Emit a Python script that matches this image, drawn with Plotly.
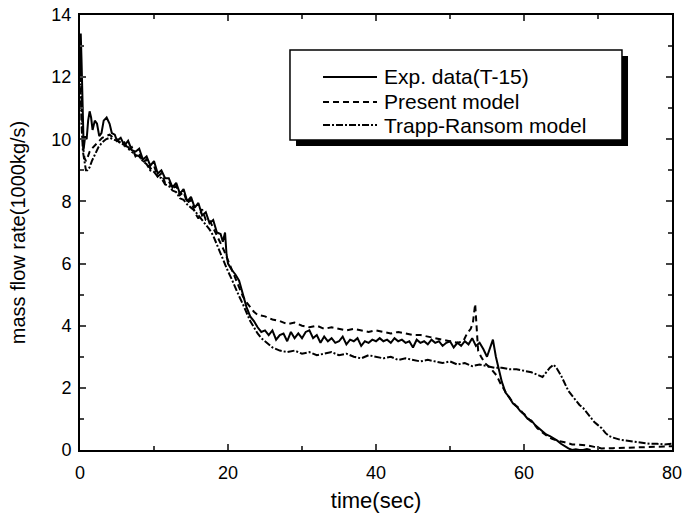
import plotly.graph_objects as go

# Exp. data (T-15)
exp_t = [0.0, 0.1, 0.2, 0.3, 0.4, 0.5, 0.7, 0.9, 1.1, 1.3, 1.5, 1.7, 2.0, 2.3, 2.6, 2.9, 3.2, 3.6, 4.0, 4.3,
         4.7, 5.0, 5.5, 6.0, 6.5, 7.0, 7.5, 8.0, 8.5, 9.0, 9.5, 10.0, 10.5, 11.0, 11.5, 12.0, 12.5, 13.0, 13.5, 14.0,
         14.5, 15.0, 15.5, 16.0, 16.5, 17.0, 17.5, 18.0, 18.5, 19.0, 19.3, 19.6, 19.8, 20.0, 20.5, 21.0, 21.5, 22.0, 22.5, 23.0,
         23.5, 24.0, 24.5, 25.0, 25.5, 26.0, 26.5, 27.0, 27.5, 28.0, 28.5, 29.0, 29.5, 30.0, 30.5, 31.0, 31.5, 32.0, 32.5, 33.0,
         33.5, 34.0, 34.5, 35.0, 35.5, 36.0, 36.5, 37.0, 37.5, 38.0, 38.5, 39.0, 39.5, 40.0, 40.5, 41.0, 41.5, 42.0, 42.5, 43.0,
         43.5, 44.0, 44.5, 45.0, 45.5, 46.0, 46.5, 47.0, 47.5, 48.0, 48.5, 49.0, 49.5, 50.0, 50.5, 51.0, 51.5, 52.0, 52.5, 53.0,
         53.5, 54.0, 54.5, 55.0, 55.4, 55.8, 56.2, 56.6, 57.0, 57.5, 58.0, 58.5, 59.0, 59.5, 60.0, 60.5, 61.0, 61.5, 62.0, 62.5,
         63.0, 63.5, 64.0, 64.5, 65.0, 65.5, 66.0, 66.5, 67.0, 67.5, 68.0, 68.5, 69.0]
exp_v = [12.0, 13.4, 12.6, 11.2, 10.3, 9.7, 10.1, 10.0, 10.6, 10.9, 10.7, 10.3, 10.6, 10.5, 10.1, 10.2, 10.6, 10.7, 10.5, 10.2,
         10.15, 9.95, 10.05, 9.8, 9.95, 9.65, 9.6, 9.7, 9.35, 9.45, 9.15, 9.3, 8.9, 9.0, 8.75, 8.75, 8.45, 8.6, 8.25, 8.4,
         8.0, 8.15, 7.8, 7.95, 7.55, 7.65, 7.3, 7.4, 7.0, 6.95, 6.7, 7.0, 6.3, 6.0, 5.8, 5.65, 5.45, 5.0, 4.6, 4.3,
         4.15, 3.95, 3.8, 3.85, 3.7, 3.85, 3.55, 3.7, 3.75, 3.5, 3.8, 3.6, 3.75, 3.6, 3.8, 3.85, 3.6, 3.7, 3.45, 3.65,
         3.5, 3.6, 3.45, 3.5, 3.65, 3.4, 3.55, 3.5, 3.6, 3.35, 3.5, 3.45, 3.55, 3.5, 3.6, 3.5, 3.55, 3.45, 3.6, 3.5,
         3.55, 3.45, 3.5, 3.3, 3.55, 3.45, 3.5, 3.4, 3.55, 3.45, 3.5, 3.35, 3.45, 3.5, 3.3, 3.45, 3.35, 3.5, 3.4, 3.6,
         3.35, 3.45, 3.25, 3.0, 3.3, 3.55, 3.0, 2.6, 2.2, 1.85, 1.7, 1.5, 1.4, 1.25, 1.15, 1.0, 0.95, 0.8, 0.7, 0.6,
         0.5, 0.45, 0.38, 0.3, 0.2, 0.12, 0.05, 0.0, 0.02, 0.0, 0.0, 0.03, 0.0]

# Present model
pre_t = [0.0, 0.2, 0.4, 0.6, 0.8, 1.0, 1.3, 1.6, 2.0, 2.5, 3.0, 3.5, 4.0, 4.5, 5.0, 5.5, 6.0, 6.5, 7.0, 7.5,
         8.0, 8.5, 9.0, 9.5, 10.0, 10.5, 11.0, 11.5, 12.0, 12.5, 13.0, 13.5, 14.0, 14.5, 15.0, 15.5, 16.0, 16.5, 17.0, 17.5,
         18.0, 18.5, 19.0, 19.5, 20.0, 20.5, 21.0, 21.5, 22.0, 22.5, 23.0, 23.5, 24.0, 25.0, 26.0, 27.0, 28.0, 29.0, 30.0, 31.0,
         32.0, 33.0, 34.0, 35.0, 36.0, 37.0, 38.0, 39.0, 40.0, 41.0, 42.0, 43.0, 44.0, 45.0, 46.0, 47.0, 48.0, 49.0, 50.0, 51.0,
         51.8, 52.3, 52.8, 53.1, 53.4, 53.6, 53.8, 54.2, 54.7, 55.2, 55.8, 56.3, 56.8, 57.3, 57.8, 58.3, 58.8, 59.3, 59.8, 60.3,
         60.8, 61.3, 61.8, 62.3, 62.8, 63.3, 63.8, 64.5, 65.5, 66.5, 67.5, 68.5, 69.5, 70.5, 72.0, 74.0, 76.0, 78.0, 80.0]
pre_v = [13.0, 11.0, 9.8, 9.4, 9.3, 9.4, 9.6, 9.7, 9.8, 9.9, 10.05, 10.1, 10.15, 10.05, 10.0, 9.85, 9.9, 9.65, 9.75, 9.45,
         9.55, 9.25, 9.35, 9.05, 9.15, 8.8, 8.9, 8.6, 8.65, 8.4, 8.5, 8.2, 8.3, 7.95, 8.05, 7.65, 7.45, 7.75, 7.4, 7.4,
         7.15, 6.95, 6.7, 6.4, 6.1, 5.8, 5.5, 5.2, 4.95, 4.75, 4.6, 4.45, 4.35, 4.3, 4.2, 4.15, 4.05, 4.1, 4.0, 3.95,
         4.0, 3.9, 3.95, 3.9, 3.85, 3.9, 3.85, 3.8, 3.85, 3.8, 3.75, 3.8, 3.75, 3.7, 3.7, 3.65, 3.6, 3.55, 3.5, 3.45,
         3.5, 3.75, 3.9, 4.1, 4.7, 4.0, 3.2, 3.0, 2.8, 2.7, 2.55, 2.4, 2.15, 1.95, 1.75, 1.6, 1.45, 1.35, 1.2, 1.1,
         0.95, 0.85, 0.7, 0.6, 0.5, 0.42, 0.36, 0.3, 0.25, 0.18, 0.17, 0.15, 0.1, 0.05, 0.06, 0.08, 0.1, 0.1, 0.12]

# Trapp-Ransom model
tr_t = [0.0, 0.2, 0.4, 0.6, 0.8, 1.0, 1.3, 1.6, 2.0, 2.5, 3.0, 3.5, 4.0, 4.5, 5.0, 5.5, 6.0, 6.5, 7.0, 7.5,
        8.0, 8.5, 9.0, 9.5, 10.0, 10.5, 11.0, 11.5, 12.0, 12.5, 13.0, 13.5, 14.0, 14.5, 15.0, 15.5, 16.0, 16.5, 17.0, 17.5,
        18.0, 18.5, 19.0, 19.5, 20.0, 20.5, 21.0, 21.5, 22.0, 22.5, 23.0, 23.5, 24.0, 24.5, 25.0, 25.5, 26.0, 27.0, 28.0, 29.0,
        30.0, 31.0, 32.0, 33.0, 34.0, 35.0, 36.0, 37.0, 38.0, 39.0, 40.0, 41.0, 42.0, 43.0, 44.0, 45.0, 46.0, 47.0, 48.0, 49.0,
        50.0, 51.0, 52.0, 53.0, 54.0, 55.0, 56.0, 57.0, 58.0, 59.0, 60.0, 61.0, 62.0, 62.5, 63.0, 63.5, 64.0, 64.5, 65.0, 65.5,
        66.0, 66.5, 67.0, 67.5, 68.0, 68.5, 69.0, 69.5, 70.0, 70.5, 71.0, 71.5, 72.0, 73.0, 74.0, 75.0, 76.0, 77.0, 78.0, 79.0,
        80.0]
tr_v = [12.5, 10.5, 9.6, 9.2, 9.0, 9.0, 9.1, 9.3, 9.5, 9.75, 9.9, 10.0, 10.05, 10.0, 9.95, 9.9, 9.8, 9.75, 9.6, 9.5,
        9.45, 9.3, 9.2, 9.0, 8.95, 8.8, 8.75, 8.55, 8.5, 8.35, 8.3, 8.1, 8.05, 7.9, 7.8, 7.7, 7.55, 7.4, 7.25, 7.1,
        6.9, 6.6, 6.3, 6.0, 5.75, 5.5, 5.2, 4.95, 4.7, 4.4, 4.15, 3.95, 3.75, 3.6, 3.5, 3.4, 3.3, 3.2, 3.15, 3.2,
        3.1, 3.15, 3.05, 3.1, 3.15, 3.05, 3.1, 3.0, 2.95, 3.05, 3.0, 2.95, 3.0, 2.9, 2.95, 2.9, 2.85, 2.9, 2.85, 2.8,
        2.85, 2.75, 2.8, 2.7, 2.75, 2.7, 2.65, 2.65, 2.6, 2.6, 2.55, 2.5, 2.4, 2.35, 2.5, 2.65, 2.75, 2.6, 2.4, 2.15,
        1.9, 1.75, 1.6, 1.45, 1.35, 1.2, 1.05, 0.9, 0.8, 0.7, 0.55, 0.45, 0.4, 0.33, 0.3, 0.27, 0.22, 0.2, 0.2, 0.18,
        0.2]

names = ["Exp. data(T-15)", "Present model", "Trapp-Ransom model"]
dashes = ["solid", "6px,4px", "7px,2px,2px,2px"]

fig = go.Figure()
for t, v, name, dash in zip([exp_t, pre_t, tr_t], [exp_v, pre_v, tr_v], names, dashes):
    fig.add_trace(go.Scatter(x=t, y=v, mode="lines", name=name, showlegend=False,
                             line=dict(color="black", width=2, dash=dash)))

# legend box with drop shadow, drawn by hand
fig.add_shape(type="rect", xref="paper", yref="paper", x0=0.3649, x1=0.9257, y0=0.6989, y1=0.9057,
              fillcolor="black", line=dict(width=0), layer="above")
fig.add_shape(type="rect", xref="paper", yref="paper", x0=0.3547, x1=0.9155, y0=0.7126, y1=0.9195,
              fillcolor="white", line=dict(color="black", width=1.5), layer="above")
leg_y = [0.8575, 0.8000, 0.7471]
for name, dash, y in zip(names, dashes, leg_y):
    fig.add_shape(type="line", xref="paper", yref="paper", x0=0.4105, x1=0.5017, y0=y, y1=y,
                  line=dict(color="black", width=2, dash=dash), layer="above")
    fig.add_annotation(xref="paper", yref="paper", x=0.5101, y=y, text=name, showarrow=False,
                       xanchor="left", yanchor="middle",
                       font=dict(family="Arial, Liberation Sans", size=21, color="black"))

tick_font = dict(family="Arial, Liberation Sans", size=18, color="black")
fig.update_xaxes(range=[0, 80], dtick=20, ticks="inside", ticklen=6, tickwidth=1.5,
                 showline=True, linecolor="black", linewidth=2, mirror="allticks",
                 showgrid=False, zeroline=False, tickfont=tick_font, ticklabelstandoff=5,
                 ticklabeloverflow="allow",
                 minor=dict(dtick=10, ticks="inside", ticklen=4, tickwidth=1.5, showgrid=False),
                 automargin=False,
                 title=dict(text="time(sec)", font=dict(family="Arial, Liberation Sans", size=22, color="black"),
                            standoff=11))
fig.update_yaxes(range=[0, 14], dtick=2, ticks="inside", ticklen=6, tickwidth=1.5,
                 showline=True, linecolor="black", linewidth=2, mirror="allticks",
                 showgrid=False, zeroline=False, tickfont=tick_font, ticklabelstandoff=3,
                 ticklabeloverflow="allow",
                 minor=dict(dtick=1, ticks="inside", ticklen=4, tickwidth=1.5, showgrid=False),
                 automargin=False,
                 title=dict(text="mass flow rate(1000kg/s)",
                            font=dict(family="Arial, Liberation Sans", size=20, color="black"),
                            standoff=20))
fig.update_layout(
    width=682, height=515,
    margin=dict(l=80, r=10, t=15, b=65),
    paper_bgcolor="white", plot_bgcolor="white",
)
# drop the default 8px page margin so the figure fills the window
fig.write_html("out.html", config={"displayModeBar": False},
               post_script="document.body.style.margin = '0';")
